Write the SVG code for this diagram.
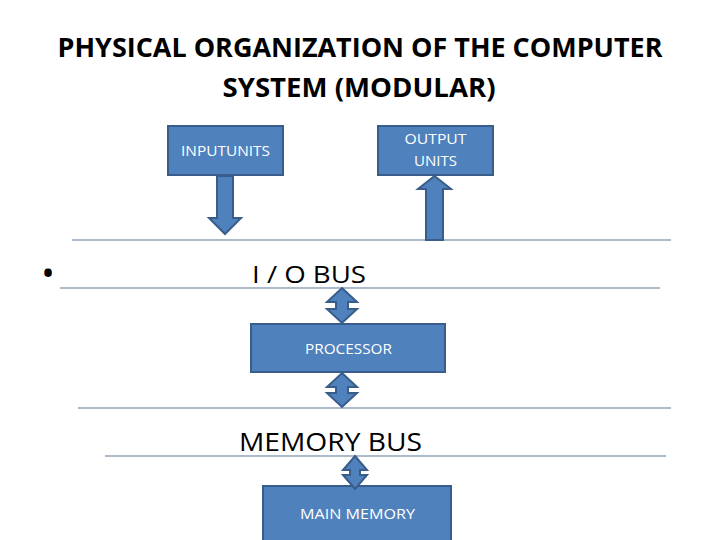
<svg xmlns="http://www.w3.org/2000/svg" width="720" height="540" viewBox="0 0 720 540">
<style>
.box{fill:#4F81BD;stroke:#385D8A;stroke-width:2}
.arr{fill:#4F81BD;stroke:#385D8A;stroke-width:2;stroke-linejoin:miter}
.bus{stroke:#5B7897;stroke-width:1.2}
.lbl{font-family:"Open Sans","Liberation Sans",sans-serif;font-size:14px;fill:#FFFFFF;text-anchor:middle}
.big{font-family:"Open Sans","Liberation Sans",sans-serif;fill:#000000}
.title{font-family:"Open Sans","Liberation Sans",sans-serif;font-size:27px;font-weight:bold;fill:#000000;text-anchor:middle}
</style>
<rect width="720" height="540" fill="#FFFFFF"/>
<g id="title">
<text class="title" x="360" y="57" textLength="605" lengthAdjust="spacingAndGlyphs">PHYSICAL ORGANIZATION OF THE COMPUTER</text>
<text class="title" x="359" y="97" textLength="273" lengthAdjust="spacingAndGlyphs">SYSTEM (MODULAR)</text>
</g>
<g id="buses">
<line class="bus" x1="72" y1="240" x2="671" y2="240"/>
<line class="bus" x1="60" y1="288" x2="660" y2="288"/>
<line class="bus" x1="78" y1="408" x2="671" y2="408"/>
<line class="bus" x1="105" y1="456" x2="666" y2="456"/>
<text class="big" x="48" y="286" font-size="36" text-anchor="middle">•</text>
<text class="big" x="252" y="283" font-size="24" textLength="114" lengthAdjust="spacingAndGlyphs">I / O BUS</text>
<text class="big" x="239" y="451" font-size="26" textLength="183" lengthAdjust="spacingAndGlyphs">MEMORY BUS</text>
</g>
<g id="input-units">
<rect class="box" x="168" y="126" width="115" height="49"/>
<text class="lbl" x="225.5" y="156" textLength="89" lengthAdjust="spacingAndGlyphs">INPUTUNITS</text>
</g>
<g id="output-units">
<rect class="box" x="378" y="126" width="115" height="49"/>
<text class="lbl" x="435.5" y="144" textLength="62" lengthAdjust="spacingAndGlyphs">OUTPUT</text>
<text class="lbl" x="435.5" y="166" textLength="43" lengthAdjust="spacingAndGlyphs">UNITS</text>
</g>
<g id="processor">
<rect class="box" x="251" y="324" width="194" height="48"/>
<text class="lbl" x="348.5" y="354" textLength="87" lengthAdjust="spacingAndGlyphs">PROCESSOR</text>
</g>
<g id="main-memory">
<rect class="box" x="263" y="486" width="188" height="60"/>
<text class="lbl" x="357.5" y="519" textLength="115" lengthAdjust="spacingAndGlyphs">MAIN MEMORY</text>
</g>
<g id="connectors">
<path class="arr" d="M217,176 L233,176 L233,218 L241,218 L225,234 L209,218 L217,218 Z"/>
<path class="arr" d="M434.5,176 L451,189 L443,189 L443,240 L426,240 L426,189 L418,189 Z"/>
<path class="arr" d="M342,288 L357,302 L348,302 L348,309 L357,309 L342,323 L327,309 L336,309 L336,302 L327,302 Z"/>
<path class="arr" d="M342,373 L357,387 L348,387 L348,393 L357,393 L342,407 L327,393 L336,393 L336,387 L327,387 Z"/>
<path class="arr" d="M355,456 L367,470 L360,470 L360,475 L367,475 L355,489 L343,475 L350,475 L350,470 L343,470 Z"/>
</g>
</svg>
